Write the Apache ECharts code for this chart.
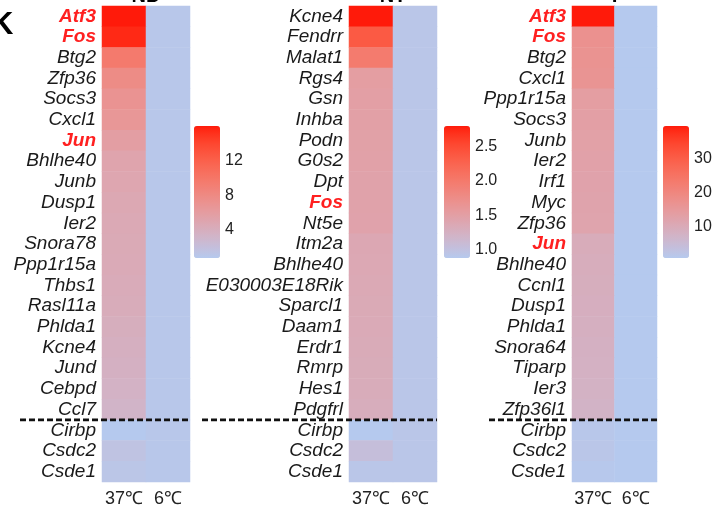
<!DOCTYPE html>
<html><head><meta charset="utf-8">
<script src="https://cdn.jsdelivr.net/npm/echarts@6/dist/echarts.min.js"></script>
<style>html,body{margin:0;padding:0;background:#fff;}#c{width:722px;height:513px;}</style>
</head><body><div id="c"></div>
<script>
// ---- data ----
const conditions = ['37℃', '6℃'];
const panelTitles = ['ND', 'NT', 'T'];

const ndGenes = ['Atf3','Fos','Btg2','Zfp36','Socs3','Cxcl1','Jun','Bhlhe40','Junb','Dusp1','Ier2','Snora78','Ppp1r15a','Thbs1','Rasl11a','Phlda1','Kcne4','Jund','Cebpd','Ccl7'];
const ndBottomGenes = ['Cirbp','Csdc2','Csde1'];
const nd37 = [16.0,15.5,9.6,7.8,7.0,6.6,5.8,5.1,4.9,4.7,4.6,4.5,4.4,4.3,4.2,4.0,3.8,3.7,3.5,3.3, 0.77,1.5,1.2];
const nd6  = [1,1,1,1,1,1,1,1,1,1,1,1,1,1,1,1,1,1,1,1, 1,1,1];
const ndRed = ['Atf3','Fos','Jun'];
const ndTicks = [4, 8, 12];

const ntGenes = ['Kcne4','Fendrr','Malat1','Rgs4','Gsn','Inhba','Podn','G0s2','Dpt','Fos','Nt5e','Itm2a','Bhlhe40','E030003E18Rik','Sparcl1','Daam1','Erdr1','Rmrp','Hes1','Pdgfrl'];
const ntBottomGenes = ['Cirbp','Csdc2','Csde1'];
const nt37 = [2.79,2.35,1.98,1.52,1.50,1.49,1.48,1.47,1.46,1.46,1.45,1.38,1.37,1.36,1.35,1.34,1.33,1.32,1.31,1.30, 0.885,1.05,0.93];
const nt6  = [0.93,0.93,0.93,0.93,0.93,0.93,0.93,0.93,0.93,0.93,0.93,0.93,0.93,0.93,0.93,0.93,0.93,0.93,0.93,0.93, 0.93,0.93,0.93];
const ntRed = ['Fos'];
const ntTicks = [1.0, 1.5, 2.0, 2.5];

const tGenes = ['Atf3','Fos','Btg2','Cxcl1','Ppp1r15a','Socs3','Junb','Ier2','Irf1','Myc','Zfp36','Jun','Bhlhe40','Ccnl1','Dusp1','Phlda1','Snora64','Tiparp','Ier3','Zfp36l1'];
const tBottomGenes = ['Cirbp','Csdc2','Csde1'];
const t37 = [39.4,17.2,16.8,16.5,13.8,13.4,13.0,12.7,12.4,12.2,12.0,9.6,9.3,9.1,8.9,8.7,8.4,8.2,8.0,7.8, 1.6,1.9,1.3];
const t6  = [1,1,1,1,1,1,1,1,1,1,1,1,1,1,1,1,1,1,1,1, 1,1,1];
const tRed = ['Atf3','Fos','Jun'];
const tTicks = [10, 20, 30];

// ---- colour ramp (Lab interpolation like ggplot) ----
const lowC = '#b5c9ee', highC = '#ff1a0a';
function s2l(c){c/=255;return c<=0.04045?c/12.92:Math.pow((c+0.055)/1.055,2.4);}
function l2s(c){c=Math.max(0,Math.min(1,c));const v=c<=0.0031308?12.92*c:1.055*Math.pow(c,1/2.4)-0.055;return Math.round(Math.max(0,Math.min(1,v))*255);}
function hexToLab(h){const r=s2l(parseInt(h.substr(1,2),16)),g=s2l(parseInt(h.substr(3,2),16)),b=s2l(parseInt(h.substr(5,2),16));
 const X=(0.4124*r+0.3576*g+0.1805*b)/0.95047,Y=0.2126*r+0.7152*g+0.0722*b,Z=(0.0193*r+0.1192*g+0.9505*b)/1.08883;
 const f=t=>t>0.008856?Math.cbrt(t):7.787*t+16/116;const fx=f(X),fy=f(Y),fz=f(Z);
 return [116*fy-16,500*(fx-fy),200*(fy-fz)];}
function labToHex(L,a,b){const fy=(L+16)/116,fx=fy+a/500,fz=fy-b/200;const fi=t=>t>0.206893?t*t*t:(t-16/116)/7.787;
 const X=fi(fx)*0.95047,Y=fi(fy),Z=fi(fz)*1.08883;
 const r=3.2406*X-1.5372*Y-0.4986*Z,g=-0.9689*X+1.8758*Y+0.0415*Z,bb=0.0557*X-0.2040*Y+1.0570*Z;
 const h=v=>l2s(v).toString(16).padStart(2,'0');return '#'+h(r)+h(g)+h(bb);}
const L0=hexToLab(lowC),L1=hexToLab(highC);
const ramp=[];for(let i=0;i<=40;i++){const t=i/40;ramp.push(labToHex(L0[0]+(L1[0]-L0[0])*t,L0[1]+(L1[1]-L0[1])*t,L0[2]+(L1[2]-L0[2])*t));}

// ---- layout ----
const FONT = "'Liberation Sans', Arial, sans-serif";
const panels = [
  {genes: ndGenes.concat(ndBottomGenes), top: ndGenes.length, v37: nd37, v6: nd6, red: ndRed, ticks: ndTicks, dec: 0,
   grid: {left: 102, width: 88}, dash: {left: 20, right: 190}, leg: {left: 194}},
  {genes: ntGenes.concat(ntBottomGenes), top: ntGenes.length, v37: nt37, v6: nt6, red: ntRed, ticks: ntTicks, dec: 1,
   grid: {left: 349, width: 88}, dash: {left: 202, right: 437}, leg: {left: 444}},
  {genes: tGenes.concat(tBottomGenes), top: tGenes.length, v37: t37, v6: t6, red: tRed, ticks: tTicks, dec: 0,
   grid: {left: 572, width: 85}, dash: {left: 489, right: 657}, leg: {left: 663}}
];
const GTOP = 6, GH = 476, LTOP = 126, LH = 132, LW = 26;

const grid = [], xAxis = [], yAxis = [], series = [], visualMap = [], title = [];
title.push({text: 'K', left: -9, top: 10, padding: 0, textStyle: {fontSize: 31, fontWeight: 'bold', color: '#000', fontFamily: FONT}});

panels.forEach((p, k) => {
  const red = p.red;
  // heatmap grid
  const gi = grid.length;
  grid.push({left: p.grid.left, top: GTOP, width: p.grid.width, height: GH});
  const hx = xAxis.length;
  xAxis.push({type: 'category', gridIndex: gi, data: conditions, axisLine: {show: false}, axisTick: {show: false},
    axisLabel: {interval: 0, fontSize: 18, color: '#222', margin: 8, fontFamily: FONT}});
  const hy = yAxis.length;
  yAxis.push({type: 'category', gridIndex: gi, data: p.genes, inverse: true, axisLine: {show: false}, axisTick: {show: false},
    axisLabel: {interval: 0, margin: 6, fontFamily: FONT,
      formatter: v => red.includes(v) ? '{r|' + v + '}' : '{n|' + v + '}',
      rich: {r: {color: '#ff2020', fontWeight: 'bold', fontStyle: 'italic', fontSize: 19, fontFamily: FONT},
             n: {color: '#1a1a1a', fontStyle: 'italic', fontSize: 19, fontFamily: FONT}}}});
  const data = [];
  p.genes.forEach((g, i) => { data.push([0, i, p.v37[i]]); data.push([1, i, p.v6[i]]); });
  const si = series.length;
  series.push({type: 'heatmap', xAxisIndex: hx, yAxisIndex: hy, data: data, itemStyle: {borderWidth: 0}, emphasis: {disabled: true}});
  const all = p.v37.concat(p.v6);
  const mn = Math.min(...all), mx = Math.max(...all);
  visualMap.push({type: 'continuous', seriesIndex: si, min: mn, max: mx, left: p.leg.left, top: LTOP, itemWidth: LW, itemHeight: LH,
    calculable: false, text: null, showLabel: false, padding: 0, inRange: {color: ramp}, hoverLink: false});
  title.push({text: panelTitles[k], left: p.grid.left + p.grid.width / 2, textAlign: 'center', top: -14, padding: 0,
    textStyle: {fontSize: 20, fontWeight: 'bold', color: '#000', fontFamily: FONT}});

  // dashed separator line
  const di = grid.length;
  grid.push({left: p.dash.left, top: GTOP, width: p.dash.right - p.dash.left, height: GH});
  const dx = xAxis.length;
  xAxis.push({type: 'value', gridIndex: di, min: 0, max: 1, show: false});
  const dy = yAxis.length;
  yAxis.push({type: 'value', gridIndex: di, min: 0, max: p.genes.length, inverse: true, show: false});
  series.push({type: 'line', xAxisIndex: dx, yAxisIndex: dy, data: [[0, p.top], [1, p.top]], symbol: 'none', silent: true,
    lineStyle: {color: '#111', width: 2.6, type: [6, 3]}});

  // legend axis (ticks + labels over the colour bar)
  const li = grid.length;
  grid.push({left: p.leg.left, top: LTOP, width: LW, height: LH});
  xAxis.push({type: 'value', gridIndex: li, min: 0, max: 1, show: false});
  const tickCommon = {show: true, inside: true, length: 5, customValues: p.ticks, lineStyle: {color: '#fff', width: 1.2}};
  yAxis.push({type: 'value', gridIndex: li, min: mn, max: mx, position: 'right', splitLine: {show: false}, axisLine: {show: false},
    axisTick: tickCommon,
    axisLabel: {customValues: p.ticks, fontSize: 16, color: '#222', margin: 5, fontFamily: FONT,
      formatter: v => Number(v).toFixed(p.dec)}});
  yAxis.push({type: 'value', gridIndex: li, min: mn, max: mx, position: 'left', splitLine: {show: false}, axisLine: {show: false},
    axisTick: tickCommon, axisLabel: {show: false}});
});

const chart = echarts.init(document.getElementById('c'), null, {renderer: 'canvas'});
chart.setOption({animation: false, backgroundColor: '#fff', title, grid, xAxis, yAxis, series, visualMap});
</script></body></html>
